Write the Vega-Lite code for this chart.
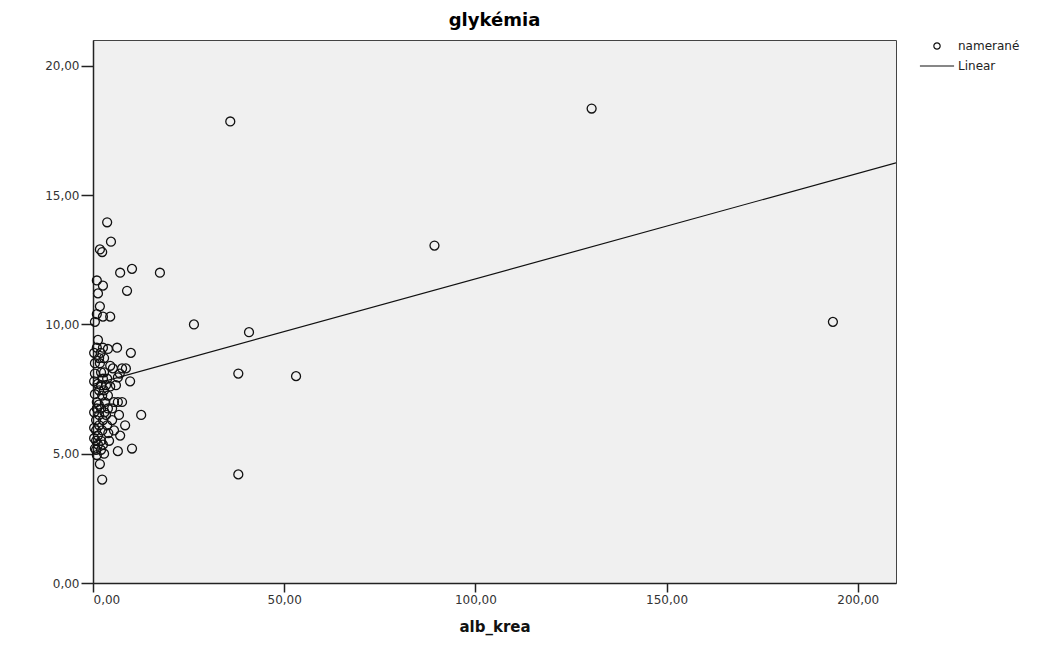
{
  "$schema": "https://vega.github.io/schema/vega-lite/v6.json",
  "autosize": "none",
  "padding": {"left": 93, "top": 40, "right": 149, "bottom": 62},
  "width": 803,
  "height": 543,
  "background": "white",
  "title": {"text": "glykémia", "font": "DejaVu Sans", "fontSize": 18, "fontWeight": "bold", "color": "#000", "offset": 10, "anchor": "middle"},
  "config": {
    "view": {"fill": "#f0f0f0", "stroke": "#444", "strokeWidth": 1},
    "axis": {"grid": false, "domainColor": "#222", "domainWidth": 1.5, "tickColor": "#222", "tickWidth": 1.5, "labelFont": "DejaVu Sans", "labelFontSize": 12, "labelColor": "#333", "titleFont": "DejaVu Sans", "titleFontSize": 15, "titleFontWeight": "bold", "titleColor": "#111"},
    "legend": {"labelFont": "DejaVu Sans", "labelFontSize": 12, "labelColor": "#222"}
  },
  "datasets": {
    "pts": [
      {"alb_krea": 35.9, "glykemia": 17.85}, {"alb_krea": 130.4, "glykemia": 18.35}, {"alb_krea": 89.3, "glykemia": 13.05}, {"alb_krea": 193.5, "glykemia": 10.1},
      {"alb_krea": 26.4, "glykemia": 10.0}, {"alb_krea": 40.8, "glykemia": 9.7}, {"alb_krea": 38.0, "glykemia": 8.1}, {"alb_krea": 53.1, "glykemia": 8.0},
      {"alb_krea": 38.0, "glykemia": 4.2}, {"alb_krea": 17.5, "glykemia": 12.0}, {"alb_krea": 10.2, "glykemia": 12.15}, {"alb_krea": 7.1, "glykemia": 12.0},
      {"alb_krea": 8.9, "glykemia": 11.3}, {"alb_krea": 3.7, "glykemia": 13.95}, {"alb_krea": 4.7, "glykemia": 13.2}, {"alb_krea": 1.8, "glykemia": 12.9},
      {"alb_krea": 2.4, "glykemia": 12.8}, {"alb_krea": 1.0, "glykemia": 11.7}, {"alb_krea": 2.6, "glykemia": 11.5}, {"alb_krea": 1.3, "glykemia": 11.2},
      {"alb_krea": 1.8, "glykemia": 10.7}, {"alb_krea": 1.0, "glykemia": 10.4}, {"alb_krea": 4.5, "glykemia": 10.3}, {"alb_krea": 2.6, "glykemia": 10.3},
      {"alb_krea": 0.5, "glykemia": 10.1}, {"alb_krea": 1.3, "glykemia": 9.4},
      {"alb_krea": 1.0, "glykemia": 9.1}, {"alb_krea": 2.6, "glykemia": 9.1}, {"alb_krea": 3.9, "glykemia": 9.05}, {"alb_krea": 6.3, "glykemia": 9.1},
      {"alb_krea": 9.9, "glykemia": 8.9}, {"alb_krea": 1.6, "glykemia": 8.7}, {"alb_krea": 2.9, "glykemia": 8.7}, {"alb_krea": 0.5, "glykemia": 8.5},
      {"alb_krea": 1.8, "glykemia": 8.5}, {"alb_krea": 4.5, "glykemia": 8.4}, {"alb_krea": 5.2, "glykemia": 8.3}, {"alb_krea": 7.6, "glykemia": 8.3},
      {"alb_krea": 8.6, "glykemia": 8.3}, {"alb_krea": 2.1, "glykemia": 8.15}, {"alb_krea": 2.9, "glykemia": 8.15}, {"alb_krea": 2.6, "glykemia": 7.9},
      {"alb_krea": 3.7, "glykemia": 7.9}, {"alb_krea": 6.5, "glykemia": 7.95}, {"alb_krea": 9.7, "glykemia": 7.8}, {"alb_krea": 2.1, "glykemia": 7.65},
      {"alb_krea": 3.4, "glykemia": 7.65}, {"alb_krea": 4.5, "glykemia": 7.6}, {"alb_krea": 6.0, "glykemia": 7.65}, {"alb_krea": 1.6, "glykemia": 7.45},
      {"alb_krea": 2.9, "glykemia": 7.45}, {"alb_krea": 2.4, "glykemia": 7.25}, {"alb_krea": 3.9, "glykemia": 7.25}, {"alb_krea": 1.0, "glykemia": 7.0},
      {"alb_krea": 3.1, "glykemia": 7.0}, {"alb_krea": 5.5, "glykemia": 7.0}, {"alb_krea": 6.5, "glykemia": 7.0}, {"alb_krea": 7.6, "glykemia": 7.0},
      {"alb_krea": 1.0, "glykemia": 6.75}, {"alb_krea": 2.1, "glykemia": 6.75}, {"alb_krea": 3.9, "glykemia": 6.75}, {"alb_krea": 5.0, "glykemia": 6.75},
      {"alb_krea": 1.6, "glykemia": 6.5}, {"alb_krea": 3.4, "glykemia": 6.5}, {"alb_krea": 6.8, "glykemia": 6.5}, {"alb_krea": 12.6, "glykemia": 6.5},
      {"alb_krea": 0.8, "glykemia": 6.3}, {"alb_krea": 2.6, "glykemia": 6.3}, {"alb_krea": 5.0, "glykemia": 6.3}, {"alb_krea": 1.6, "glykemia": 6.1},
      {"alb_krea": 3.7, "glykemia": 6.1}, {"alb_krea": 8.4, "glykemia": 6.1}, {"alb_krea": 0.8, "glykemia": 5.9}, {"alb_krea": 2.4, "glykemia": 5.9},
      {"alb_krea": 5.5, "glykemia": 5.9}, {"alb_krea": 1.3, "glykemia": 5.7}, {"alb_krea": 7.1, "glykemia": 5.7}, {"alb_krea": 0.8, "glykemia": 5.5},
      {"alb_krea": 2.1, "glykemia": 5.5}, {"alb_krea": 4.2, "glykemia": 5.5}, {"alb_krea": 1.3, "glykemia": 5.35}, {"alb_krea": 2.6, "glykemia": 5.35},
      {"alb_krea": 0.8, "glykemia": 5.15}, {"alb_krea": 2.1, "glykemia": 5.15}, {"alb_krea": 6.5, "glykemia": 5.1}, {"alb_krea": 10.2, "glykemia": 5.2},
      {"alb_krea": 1.0, "glykemia": 4.95}, {"alb_krea": 2.9, "glykemia": 5.0}, {"alb_krea": 1.8, "glykemia": 4.6}, {"alb_krea": 2.4, "glykemia": 4.0},
      {"alb_krea": 0.3, "glykemia": 5.6}, {"alb_krea": 0.3, "glykemia": 6.0}, {"alb_krea": 0.3, "glykemia": 6.6}, {"alb_krea": 0.5, "glykemia": 7.3},
      {"alb_krea": 0.3, "glykemia": 7.8}, {"alb_krea": 0.5, "glykemia": 8.1}, {"alb_krea": 0.3, "glykemia": 8.9}, {"alb_krea": 0.5, "glykemia": 5.2},
      {"alb_krea": 1.5, "glykemia": 6.9}, {"alb_krea": 1.2, "glykemia": 7.7}, {"alb_krea": 2.0, "glykemia": 8.9}, {"alb_krea": 4.0, "glykemia": 5.8},
      {"alb_krea": 3.0, "glykemia": 6.6}, {"alb_krea": 7.0, "glykemia": 8.1}
    ],
    "fit": [
      {"alb_krea": 0, "glykemia": 7.68},
      {"alb_krea": 210, "glykemia": 16.25}
    ]
  },
  "layer": [
    {
      "data": {"name": "fit"},
      "mark": {"type": "line", "color": "#111", "strokeWidth": 1.2, "clip": true},
      "encoding": {
        "x": {"field": "alb_krea", "type": "quantitative"},
        "y": {"field": "glykemia", "type": "quantitative"}
      }
    },
    {
      "data": {"name": "pts"},
      "mark": {"type": "point", "filled": false, "stroke": "#111", "strokeWidth": 1.3, "size": 80, "opacity": 1},
      "encoding": {
        "x": {"field": "alb_krea", "type": "quantitative", "title": "alb_krea",
              "scale": {"domain": [0, 210], "nice": false, "zero": true},
              "axis": {"values": [0, 50, 100, 150, 200], "tickSize": 9, "labelPadding": 2, "titlePadding": 14, "labelExpr": "replace(format(datum.value, '.2f'), '.', ',')"}},
        "y": {"field": "glykemia", "type": "quantitative", "title": null,
              "scale": {"domain": [0, 21], "nice": false},
              "axis": {"values": [0, 5, 10, 15, 20], "tickSize": 12, "labelPadding": 2, "labelExpr": "replace(format(datum.value, '.2f'), '.', ',')"}},
        "shape": {"datum": "namerané",
                  "scale": {"domain": ["namerané", "Linear"], "range": ["circle", "M-5.4,0H5.4"]},
                  "legend": {"title": null, "orient": "right", "offset": 35, "symbolSize": 40, "symbolStrokeColor": "#111", "symbolStrokeWidth": 1.2, "symbolFillColor": "transparent", "rowPadding": 8, "labelOffset": 15, "padding": 0}}
      }
    }
  ]
}
